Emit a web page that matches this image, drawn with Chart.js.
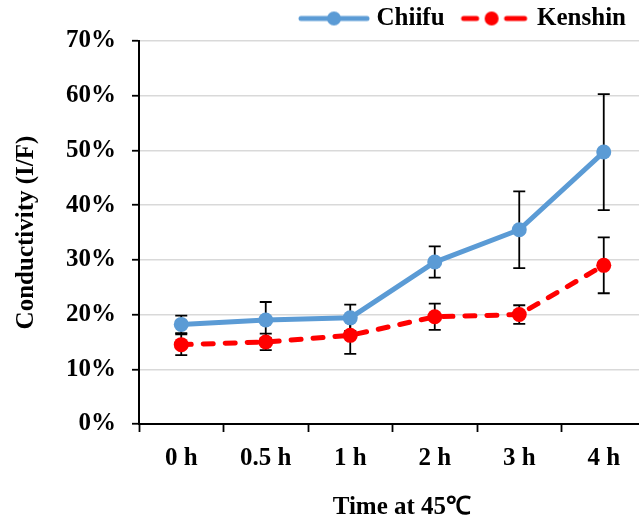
<!DOCTYPE html>
<html><head><meta charset="utf-8">
<script src="https://cdn.jsdelivr.net/npm/chart.js@4/dist/chart.umd.min.js"></script>
<style>html,body{margin:0;padding:0;background:#fff;overflow:hidden}#wrap{width:647px;height:521px;position:relative}canvas{display:block;width:647px;height:521px}</style>
</head><body><div id="wrap"><canvas id="c" width="647" height="521" style="width:647px;height:521px"></canvas></div>
<script>
const categories = ['0 h', '0.5 h', '1 h', '2 h', '3 h', '4 h'];
const seriesNames = ['Chiifu', 'Kenshin'];
const chiifu = [18.2, 19.0, 19.4, 29.6, 35.5, 49.7];
const chiifuErr = [1.6, 3.3, 2.4, 2.85, 7.0, 10.6];
const kenshin = [14.5, 15.0, 16.2, 19.6, 20.0, 29.0];
const kenshinErr = [1.9, 1.5, 3.4, 2.4, 1.7, 5.1];
const yMin = 0, yMax = 70, yStep = 10;
const xTitle = '   Time at 45\u2103';
const yTitle = 'Conductivity (I/F)';

const FONT = '"Liberation Serif", "Times New Roman", serif';
const BLUE = '#5B9BD5', RED = '#FF0000';

function legendIcon(color, dashed) {
  const c = document.createElement('canvas');
  c.width = 72; c.height = 16;
  const g = c.getContext('2d');
  g.strokeStyle = color; g.fillStyle = color; g.lineWidth = 5; g.lineCap = 'round';
  g.beginPath();
  if (dashed) {
    g.moveTo(5, 8); g.lineTo(18, 8);
    g.moveTo(48, 8); g.lineTo(66, 8);
  } else {
    g.moveTo(3, 8); g.lineTo(69, 8);
  }
  g.stroke();
  g.beginPath(); g.arc(dashed ? 33 : 36, 8, 7, 0, Math.PI * 2); g.fill();
  return c;
}
const icons = [legendIcon(BLUE, false), legendIcon(RED, true)];
const errs = [chiifuErr, kenshinErr];

const errorBars = {
  id: 'errorBars',
  beforeDatasetsDraw(chart) {
    const { ctx, scales: { x, y } } = chart;
    ctx.save();
    ctx.strokeStyle = '#000';
    ctx.lineWidth = 1.8;
    chart.data.datasets.forEach((ds, di) => {
      ds.data.forEach((v, i) => {
        const px = x.getPixelForValue(i);
        const top = y.getPixelForValue(v + errs[di][i]);
        const bot = y.getPixelForValue(v - errs[di][i]);
        ctx.beginPath();
        ctx.moveTo(px, top); ctx.lineTo(px, bot);
        ctx.moveTo(px - 6, top); ctx.lineTo(px + 6, top);
        ctx.moveTo(px - 6, bot); ctx.lineTo(px + 6, bot);
        ctx.stroke();
      });
    });
    ctx.restore();
  }
};

new Chart(document.getElementById('c'), {
  type: 'line',
  data: {
    labels: categories,
    datasets: [
      { label: seriesNames[0], data: chiifu, borderColor: BLUE, backgroundColor: BLUE,
        borderWidth: 5, pointRadius: 7.5, pointHoverRadius: 7.5, pointBorderWidth: 0,
        borderCapStyle: 'round', borderJoinStyle: 'round', tension: 0 },
      { label: seriesNames[1], data: kenshin, borderColor: RED, backgroundColor: RED,
        borderWidth: 5, borderDash: [10, 12], pointRadius: 7.5, pointHoverRadius: 7.5, pointBorderWidth: 0,
        borderCapStyle: 'round', borderJoinStyle: 'round', tension: 0 }
    ]
  },
  options: {
    responsive: false,
    animation: false,
    layout: { autoPadding: false, padding: { left: 0, right: 1, top: -14, bottom: 0 } },
    plugins: {
      tooltip: { enabled: false },
      legend: {
        position: 'top', align: 'end',
        labels: {
          usePointStyle: true, pointStyleWidth: 60, padding: 20,
          color: '#000', font: { family: FONT, size: 25, weight: 'bold' },
          generateLabels: (chart) => chart.data.datasets.map((ds, i) => ({
            text: ds.label, pointStyle: icons[i], fillStyle: ds.borderColor,
            strokeStyle: ds.borderColor, lineWidth: 0, hidden: false, datasetIndex: i, fontColor: '#000'
          }))
        }
      }
    },
    scales: {
      x: {
        offset: true,
        grid: { offset: true, drawOnChartArea: false, tickColor: '#000', tickLength: 8, tickWidth: 1.8 },
        border: { color: '#000', width: 2 },
        ticks: { color: '#000', padding: 12, font: { family: FONT, size: 25, weight: 'bold' } },
        title: { display: true, text: xTitle, color: '#000', padding: { top: 19, bottom: -2 }, font: { family: FONT, size: 25, weight: 'bold' } },
        afterFit: (s) => { s.height = 97; s.paddingLeft = 0; s.paddingRight = 0; }
      },
      y: {
        min: yMin, max: yMax,
        grid: { color: '#d9d9d9', lineWidth: 1.5, tickColor: '#000', tickLength: 7, tickWidth: 1.8 },
        border: { color: '#000', width: 2 },
        ticks: { stepSize: yStep, color: '#000', padding: 16, callback: (v) => v + '%',
          font: { family: FONT, size: 25, weight: 'bold' } },
        title: { display: true, text: yTitle, color: '#000', padding: { top: 12, bottom: 4 }, font: { family: FONT, size: 25, weight: 'bold' } },
        afterFit: (s) => { s.width = 139; }
      }
    }
  },
  plugins: [errorBars]
});
</script></body></html>
